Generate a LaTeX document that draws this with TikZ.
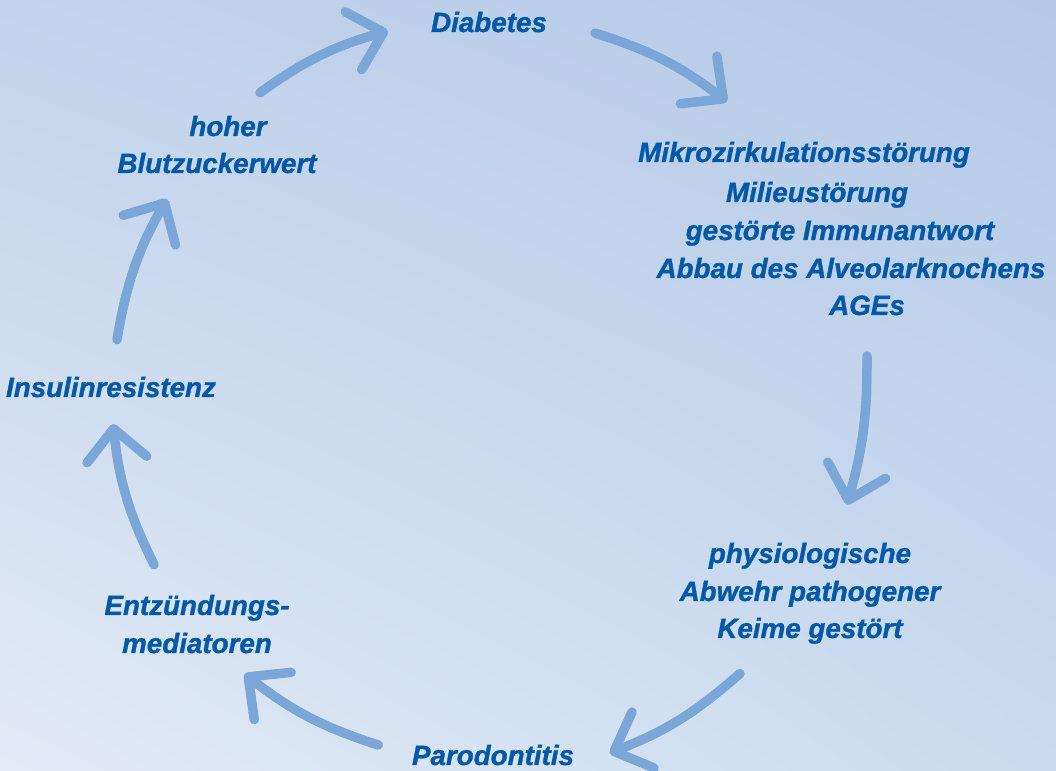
\documentclass[tikz,border=0pt]{standalone}
\usepackage{fontspec}
\setmainfont{Liberation Sans}[BoldItalicFeatures={FakeBold=1.2}]
\usetikzlibrary{arrows.meta}
\usetikzlibrary{shadings}
\definecolor{textblue}{RGB}{0,88,168}
\definecolor{arrowblue}{RGB}{122,166,216}
\definecolor{bgTL}{RGB}{194,211,235}
\definecolor{bgTR}{RGB}{180,201,231}
\definecolor{bgBL}{RGB}{226,234,245}
\definecolor{bgBR}{RGB}{202,219,239}

\begin{document}
\begin{tikzpicture}
            \tikzset{lbl/.style = {anchor=base, inner sep=0pt, text=textblue, font=\fontsize{7.9}{9.5}\selectfont\bfseries\itshape}}
            \tikzset{cyc/.style={arrowblue, line width=0.095cm, line cap=round, -{Straight Barb[round, length=0.31cm, width=0.6cm]}}}
            \shade[upper left=bgTL, upper right=bgTR, lower left=bgBL, lower right=bgBR] (0, 0) rectangle (10.56, 7.71);
            \useasboundingbox (0, 0) rectangle (10.56, 7.71);
            % the labels
            \node[lbl] (diab) at (4.89, 7.39) {Diabetes};
            \node[lbl] (mikroA) at (8.04, 6.09) {Mikrozirkulationsstörung};
            \node[lbl] (mikroB) at (8.17, 5.69) {Milieustörung};
            \node[lbl] (mikroC) at (8.40, 5.31) {gestörte Immunantwort};
            \node[lbl] (mikroD) at (8.51, 4.93) {Abbau des Alveolarknochens};
            \node[lbl] (mikroE) at (8.67, 4.56) {AGEs};
            \node[lbl] (abwehrA) at (8.10, 2.08) {physiologische};
            \node[lbl] (abwehrB) at (8.10, 1.70) {Abwehr pathogener};
            \node[lbl] (abwehrC) at (8.10, 1.33) {Keime gestört};
            \node[lbl] (paro) at (4.93, 0.06) {Parodontitis};
            \node[lbl] (entzA) at (1.97, 1.56) {Entzündungs-};
            \node[lbl] (entzB) at (1.97, 1.18) {mediatoren};
            \node[lbl] (insulin) at (1.11, 3.74) {Insulinresistenz};
            \node[lbl] (hoherA) at (2.28, 6.35) {hoher};
            \node[lbl] (hoherB) at (2.17, 5.98) {Blutzuckerwert};
            % the cycle
            \draw[cyc] ([shift={(0.32, 0.225)}]hoherA.north) to[bend left=10] ([shift={(-0.425, -0.09)}]diab.west);
            \draw[cyc] ([shift={(0.475, -0.11)}]diab.east) to[bend left=10] ([shift={(-0.77, 0.395)}]mikroA.north);
            \draw[cyc] ([shift={(0, -0.40)}]mikroE.south) to[bend left=8] ([shift={(0.37, 0.375)}]abwehrA.north);
            \draw[cyc] ([shift={(-0.70, -0.29)}]abwehrC.south) to[bend left=10] ([shift={(0.35, 0.02)}]paro.east);
            \draw[cyc] ([shift={(-0.33, 0.10)}]paro.west) to[bend left=10] ([shift={(-0.28, -0.20)}]entzB.south east);
            \draw[cyc] ([shift={(-0.43, 0.295)}]entzA.north) to[bend left=10] ([shift={(0.02, -0.26)}]insulin.south);
            \draw[cyc] ([shift={(0.06, 0.365)}]insulin.north) to[bend left=10] ([shift={(-0.50, -0.25)}]hoherB.south);
\end{tikzpicture}
\end{document}
